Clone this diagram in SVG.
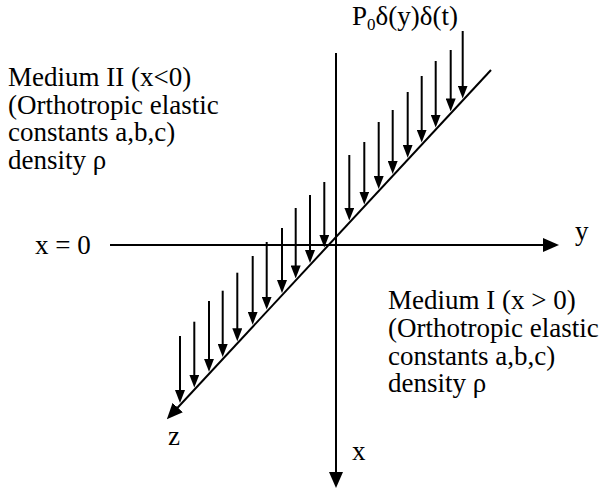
<svg xmlns="http://www.w3.org/2000/svg" width="600" height="490" viewBox="0 0 600 490">
<style>
.ax{stroke:#000;stroke-width:2;fill:none;marker-end:url(#big)}
.ld{stroke:#000;stroke-width:2;fill:none;marker-end:url(#small)}
</style>
<defs>
<marker id="big" markerUnits="userSpaceOnUse" markerWidth="16" markerHeight="14" refX="4" refY="7" orient="auto"><path d="M0,0 L16,7 L0,14 z" fill="#000"/></marker>
<marker id="small" markerUnits="userSpaceOnUse" markerWidth="13" markerHeight="10" refX="3" refY="5" orient="auto"><path d="M0,0 L13,5 L0,10 z" fill="#000"/></marker>
</defs>
<rect width="600" height="490" fill="#fff"/>
<g id="connectors">
<line id="y-axis" class="ax" x1="110" y1="245" x2="547" y2="245"/>
<line id="x-axis" class="ax" x1="336" y1="53" x2="336" y2="476"/>
<line id="z-axis" class="ax" x1="491" y1="70" x2="175" y2="410.5"/>
<g id="loads">
<line class="ld" x1="180" y1="336" x2="180" y2="393"/>
<line class="ld" x1="194.3" y1="321.7" x2="194.3" y2="377.6"/>
<line class="ld" x1="209" y1="301" x2="209" y2="361.8"/>
<line class="ld" x1="222.7" y1="290.7" x2="222.7" y2="347"/>
<line class="ld" x1="237.3" y1="272.7" x2="237.3" y2="331.3"/>
<line class="ld" x1="252.7" y1="256" x2="252.7" y2="314.7"/>
<line class="ld" x1="266.7" y1="242" x2="266.7" y2="299.6"/>
<line class="ld" x1="282" y1="228" x2="282" y2="283.1"/>
<line class="ld" x1="295.7" y1="208" x2="295.7" y2="268.4"/>
<line class="ld" x1="310" y1="195" x2="310" y2="253"/>
<line class="ld" x1="324.3" y1="182" x2="324.3" y2="237.6"/>
<line class="ld" x1="349.3" y1="155" x2="349.3" y2="210.6"/>
<line class="ld" x1="364.3" y1="142" x2="364.3" y2="194.5"/>
<line class="ld" x1="378.7" y1="122" x2="378.7" y2="179"/>
<line class="ld" x1="392.7" y1="110" x2="392.7" y2="163.9"/>
<line class="ld" x1="407.7" y1="92" x2="407.7" y2="147.7"/>
<line class="ld" x1="421.7" y1="76" x2="421.7" y2="132.6"/>
<line class="ld" x1="435.7" y1="61" x2="435.7" y2="117.6"/>
<line class="ld" x1="450.7" y1="50" x2="450.7" y2="101.4"/>
<line class="ld" x1="462.7" y1="31" x2="462.7" y2="88.5"/>
</g>
</g>
<g font-family="Liberation Serif, Times New Roman, serif" font-size="27" fill="#000">
<g id="load-label"><text x="352" y="25">P<tspan font-size="17" dy="5">0</tspan><tspan dy="-5">δ(y)δ(t)</tspan></text></g>
<g id="medium-2"><text x="8" y="86">Medium II (x&lt;0)</text><text x="8" y="113.5">(Orthotropic elastic</text><text x="8" y="141">constants a,b,c)</text><text x="8" y="168.5">density ρ</text></g>
<g id="medium-1"><text x="388" y="309">Medium I (x &gt; 0)</text><text x="388" y="337">(Orthotropic elastic</text><text x="388" y="364.5">constants a,b,c)</text><text x="388" y="392">density ρ</text></g>
<g id="x0-label"><text x="35" y="254">x = 0</text></g>
<g id="y-label"><text x="575" y="240">y</text></g>
<g id="z-label"><text x="168" y="445">z</text></g>
<g id="x-label"><text x="352" y="460">x</text></g>
</g>
</svg>
